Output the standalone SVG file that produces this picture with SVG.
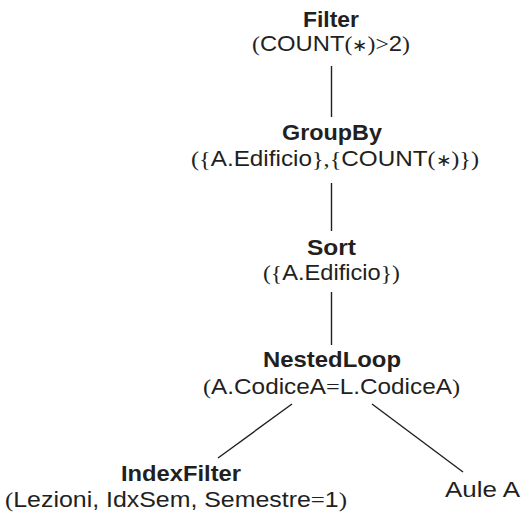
<svg xmlns="http://www.w3.org/2000/svg" width="525" height="514" viewBox="0 0 525 514">
<style>
text{font-family:"Liberation Sans",Arial,sans-serif;font-size:22px;fill:#231f20}
.b{font-weight:bold}
.m{font-family:"Liberation Serif","Times New Roman",serif}
.s{font-family:"Liberation Serif","Times New Roman",serif;font-size:17px}
.edge line{stroke:#231f20;stroke-width:1.4;fill:none}
</style>
<rect width="525" height="514" fill="#fff"/>
<g class="edge" id="connectors">
<line x1="331.5" y1="66" x2="331.5" y2="117"/>
<line x1="331.5" y1="183" x2="331.5" y2="231"/>
<line x1="331.5" y1="292" x2="331.5" y2="345"/>
<line x1="292" y1="404" x2="218" y2="458"/>
<line x1="372" y1="404" x2="463" y2="472"/>
</g>
<g id="filter">
<text class="b" x="303" y="27" textLength="56" lengthAdjust="spacingAndGlyphs">Filter</text>
<text x="252" y="51" textLength="158" lengthAdjust="spacingAndGlyphs"><tspan class="m">(</tspan>COUNT<tspan class="m">(</tspan><tspan class="s">∗</tspan><tspan class="m">)&gt;</tspan>2<tspan class="m">)</tspan></text>
</g>
<g id="groupby">
<text class="b" x="282" y="140" textLength="100" lengthAdjust="spacingAndGlyphs">GroupBy</text>
<text x="191" y="166" textLength="288" lengthAdjust="spacingAndGlyphs"><tspan class="m">({</tspan>A.Edificio<tspan class="m">},{</tspan>COUNT<tspan class="m">(</tspan><tspan class="s">∗</tspan><tspan class="m">)})</tspan></text>
</g>
<g id="sort">
<text class="b" x="307" y="255" textLength="49" lengthAdjust="spacingAndGlyphs">Sort</text>
<text x="263" y="280" textLength="137" lengthAdjust="spacingAndGlyphs"><tspan class="m">({</tspan>A.Edificio<tspan class="m">})</tspan></text>
</g>
<g id="nestedloop">
<text class="b" x="263" y="367" textLength="138" lengthAdjust="spacingAndGlyphs">NestedLoop</text>
<text x="203" y="394" textLength="257" lengthAdjust="spacingAndGlyphs"><tspan class="m">(</tspan>A.CodiceA<tspan class="m">=</tspan>L.CodiceA<tspan class="m">)</tspan></text>
</g>
<g id="indexfilter">
<text class="b" x="121" y="481" textLength="120" lengthAdjust="spacingAndGlyphs">IndexFilter</text>
<text x="5" y="507" textLength="342" lengthAdjust="spacingAndGlyphs"><tspan class="m">(</tspan>Lezioni, IdxSem, Semestre<tspan class="m">=</tspan>1<tspan class="m">)</tspan></text>
</g>
<g id="aule">
<text x="445" y="497" textLength="75" lengthAdjust="spacingAndGlyphs">Aule A</text>
</g>
</svg>
